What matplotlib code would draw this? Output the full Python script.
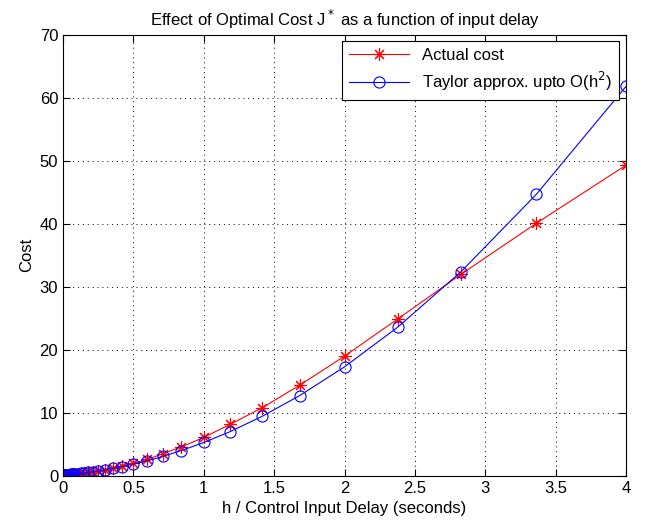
import matplotlib.pyplot as plt

plt.rcParams['font.family'] = ['Liberation Sans', 'DejaVu Sans']

# input delay h (seconds)
delay = [4.0, 3.364, 2.828, 2.378, 2.0, 1.682, 1.414, 1.189, 1.0, 0.841,
         0.707, 0.595, 0.5, 0.42, 0.354, 0.297, 0.25, 0.21, 0.177, 0.149,
         0.125, 0.105, 0.088, 0.074, 0.0625, 0.053, 0.044, 0.037, 0.031,
         0.026, 0.022, 0.019, 0.0156, 0.013, 0.011, 0.0093, 0.0078, 0.0066,
         0.0055, 0.0046]

actual_cost = [49.3, 40.1, 32.0, 24.9, 19.0, 14.4, 10.8, 8.2, 6.1, 4.6,
               3.5, 2.6, 2.0, 1.6, 1.25, 1.0, 0.8, 0.66, 0.55, 0.47,
               0.4, 0.35, 0.31, 0.28, 0.25, 0.23, 0.21, 0.2, 0.19,
               0.18, 0.17, 0.16, 0.16, 0.15, 0.15, 0.15, 0.14, 0.14,
               0.14, 0.14]

taylor_cost = [61.8, 44.7, 32.4, 23.6, 17.3, 12.75, 9.44, 7.04, 5.3, 4.02,
               3.08, 2.38, 1.87, 1.47, 1.18, 0.95, 0.78, 0.65, 0.55, 0.47,
               0.4, 0.35, 0.31, 0.28, 0.25, 0.23, 0.21, 0.2, 0.19,
               0.18, 0.17, 0.16, 0.16, 0.15, 0.15, 0.15, 0.14, 0.14,
               0.14, 0.14]

fig = plt.figure(figsize=(6.5, 5.27), dpi=100)
ax = fig.add_axes([0.097, 0.097, 0.866, 0.837])

# matlab style asterisk (8 spokes)
ax.plot(delay, actual_cost, color='red', marker=(8, 2, 0), markersize=9,
        markeredgewidth=0.8, linewidth=0.8, label='Actual cost')
ax.plot(delay, taylor_cost, color='blue', marker='o', markersize=8,
        markerfacecolor='none', markeredgewidth=0.8, linewidth=0.8,
        label='Taylor approx. upto O(h$^2$)')

ax.set_xlim(0, 4)
ax.set_ylim(0, 70)
ax.set_xticks([0, 0.5, 1, 1.5, 2, 2.5, 3, 3.5, 4])
ax.set_xticklabels(['0', '0.5', '1', '1.5', '2', '2.5', '3', '3.5', '4'])
ax.set_yticks(range(0, 71, 10))
ax.tick_params(direction='in', top=True, right=True, labelsize=12, length=5)
ax.grid(True, linestyle=(0, (1, 4)), color='black', linewidth=0.7)

ax.set_xlabel('h / Control Input Delay (seconds)', fontsize=12)
ax.set_ylabel('Cost', fontsize=12)
ax.set_title('Effect of Optimal Cost J$^*$ as a function of input delay', fontsize=12)

leg = ax.legend(loc='upper right', fontsize=12, fancybox=False, framealpha=1,
                edgecolor='black', borderaxespad=0.4, handlelength=3.6,
                borderpad=0.4, labelspacing=0.4)
leg.get_frame().set_linewidth(0.8)

fig.savefig('out.png', dpi=100)
